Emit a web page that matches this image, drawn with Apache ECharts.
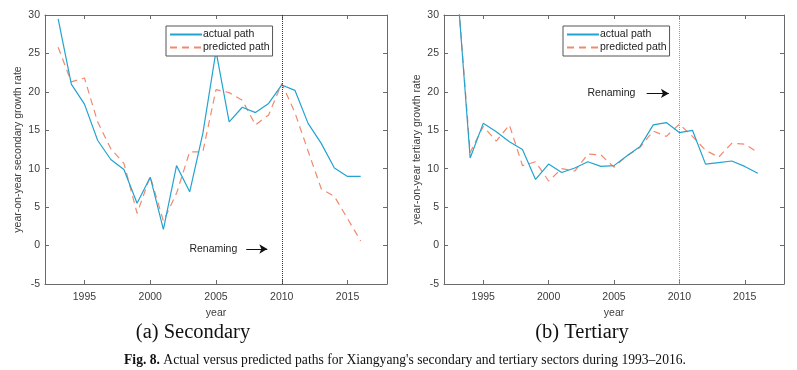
<!DOCTYPE html>
<html>
<head>
<meta charset="utf-8">
<script src="https://cdn.jsdelivr.net/npm/echarts@6/dist/echarts.min.js"></script>
<style>html,body{margin:0;padding:0;background:#fff}#c{width:797px;height:370px}</style>
</head>
<body>
<div id="c"></div>
<script>
const years = [1993,1994,1995,1996,1997,1998,1999,2000,2001,2002,2003,2004,2005,2006,2007,2008,2009,2010,2011,2012,2013,2014,2015,2016];
const secActual = [29.5,21.0,18.4,13.7,11.2,9.9,5.5,8.9,2.1,10.4,7.0,14.6,25.3,16.1,18.0,17.3,18.5,20.9,20.2,15.9,13.3,10.1,9.0,9.0];
const secPredicted = [25.8,21.3,21.8,16.1,12.6,10.7,4.2,9.0,3.2,6.8,12.2,12.2,20.3,19.9,18.9,15.7,17.0,21.1,17.3,12.3,7.4,6.4,3.5,0.6];
const terActual = [34.0,11.4,15.9,14.8,13.5,12.5,8.6,10.6,9.5,10.1,10.9,10.3,10.4,11.7,12.9,15.7,16.0,14.7,15.0,10.6,10.8,11.0,10.3,9.4];
const terPredicted = [34.0,12.1,15.5,13.6,15.7,10.4,10.9,8.4,10.0,9.7,11.9,11.8,10.2,11.7,12.8,14.9,14.2,15.8,14.2,12.4,11.5,13.3,13.2,12.1];
const xTicks = [1995,2000,2005,2010,2015];
const yTicks = [-5,0,5,10,15,20,25,30];
const renamingYear = 2010;
const secNote = {text:'Renaming', x:2004.8, y:-0.45, arrowFrom:2007.3, arrowTo:2008.9};
const terNote = {text:'Renaming', x:2004.8, y:19.8, arrowFrom:2007.5, arrowTo:2009.2};
const seriesNames = ['actual path','predicted path'];
const titles = ['(a) Secondary','(b) Tertiary'];
const yNames = ['year-on-year secondary growth rate','year-on-year tertiary growth rate'];

const BLUE = '#23a3cf', RED = '#f2896d', AX = '#6a6a6a', LBL = '#3c3c3c';
const pairs = v => years.map((y,i)=>[y,v[i]]);

const grids = [
  {left:45, top:15, width:342, height:269},
  {left:444, top:15, width:340, height:269}
];
const xAxes = [], yAxes = [];
grids.forEach((g,gi)=>{
  xAxes.push({type:'value', gridIndex:gi, position:'bottom', min:1992, max:2018, name:'year', nameLocation:'middle', nameGap:22,
    nameTextStyle:{fontSize:10.5, color:LBL, fontFamily:'Liberation Sans'},
    axisLine:{show:true, onZero:false, lineStyle:{color:AX}}, splitLine:{show:false},
    axisTick:{show:true, inside:true, length:4, customValues:xTicks, lineStyle:{color:AX}},
    axisLabel:{customValues:xTicks, formatter:v=>String(v), fontSize:10.5, color:LBL, margin:8, fontFamily:'Liberation Sans'}});
  xAxes.push({type:'value', gridIndex:gi, position:'top', min:1992, max:2018,
    axisLine:{show:true, onZero:false, lineStyle:{color:AX}}, splitLine:{show:false},
    axisTick:{show:true, inside:true, length:4, customValues:xTicks, lineStyle:{color:AX}},
    axisLabel:{show:false}});
  yAxes.push({type:'value', gridIndex:gi, position:'left', min:-5, max:30, interval:5, name:yNames[gi], nameLocation:'middle', nameGap:21,
    nameTextStyle:{fontSize:10.5, color:LBL, fontFamily:'Liberation Sans'},
    axisLine:{show:true, onZero:false, lineStyle:{color:AX}}, splitLine:{show:false},
    axisTick:{show:true, inside:true, length:4, lineStyle:{color:AX}},
    axisLabel:{formatter:v=>String(v), fontSize:10.5, color:LBL, margin:5, fontFamily:'Liberation Sans'}});
  yAxes.push({type:'value', gridIndex:gi, position:'right', min:-5, max:30, interval:5,
    axisLine:{show:true, onZero:false, lineStyle:{color:AX}}, splitLine:{show:false},
    axisTick:{show:true, inside:true, length:4, lineStyle:{color:AX}},
    axisLabel:{show:false}});
});

function annotations(note, vColor){
  return {
    markLine:{silent:true, animation:false, symbol:'none', label:{show:false},
      data:[
        [{coord:[renamingYear,-5], symbol:'none', lineStyle:{type:'dotted', color:vColor, width:1}}, {coord:[renamingYear,30], symbol:'none'}],
        [{coord:[note.arrowFrom,note.y], symbol:'none', lineStyle:{type:'solid', color:'#111', width:1}}, {coord:[note.arrowTo,note.y], symbol:'arrow', symbolSize:[7,8]}]
      ]},
    markPoint:{silent:true, animation:false, symbol:'circle', symbolSize:0,
      label:{show:true, formatter:note.text, color:'#222', fontSize:10.5, fontFamily:'Liberation Sans', position:'inside'},
      data:[{coord:[note.x,note.y]}]}
  };
}

const series = [
  Object.assign({name:seriesNames[0], type:'line', xAxisIndex:0, yAxisIndex:0, data:pairs(secActual), symbol:'none', clip:true,
    lineStyle:{color:BLUE, width:1.2}, itemStyle:{color:BLUE}, z:3}, annotations(secNote,'#333')),
  {name:seriesNames[1], type:'line', xAxisIndex:0, yAxisIndex:0, data:pairs(secPredicted), symbol:'none', clip:true,
    lineStyle:{color:RED, width:1.2, type:[7,5]}, itemStyle:{color:RED}, z:2},
  Object.assign({name:seriesNames[0], type:'line', xAxisIndex:2, yAxisIndex:2, data:pairs(terActual), symbol:'none', clip:true,
    lineStyle:{color:BLUE, width:1.2}, itemStyle:{color:BLUE}, z:3}, annotations(terNote,'#999')),
  {name:seriesNames[1], type:'line', xAxisIndex:2, yAxisIndex:2, data:pairs(terPredicted), symbol:'none', clip:true,
    lineStyle:{color:RED, width:1.2, type:[7,5]}, itemStyle:{color:RED}, z:2}
];

const legendBase = {orient:'vertical', top:26, itemWidth:32, itemHeight:12, itemGap:2, padding:[3,3,3,3],
  borderColor:'#555', borderWidth:1, backgroundColor:'#fff', selectedMode:false,
  itemStyle:{opacity:0},
  textStyle:{fontSize:10.5, color:'#222', fontFamily:'Liberation Sans', padding:[0,0,0,-4]}, data:seriesNames};

const chart = echarts.init(document.getElementById('c'), null, {renderer:'canvas'});
chart.setOption({
  animation:false,
  backgroundColor:'#fff',
  grid:grids,
  xAxis:xAxes,
  yAxis:yAxes,
  legend:[Object.assign({left:166}, legendBase), Object.assign({left:563}, legendBase)],
  title:[
    {text:titles[0], left:188, top:317, textAlign:'center', textStyle:{fontFamily:'Liberation Serif', fontSize:20.5, fontWeight:'normal', color:'#111'}},
    {text:titles[1], left:577, top:317, textAlign:'center', textStyle:{fontFamily:'Liberation Serif', fontSize:20.5, fontWeight:'normal', color:'#111'}},
    {text:'{b|Fig. 8.} Actual versus predicted paths for Xiangyang\'s secondary and tertiary sectors during 1993–2016.', left:400, top:348, textAlign:'center',
      textStyle:{fontFamily:'Liberation Serif', fontSize:13.6, fontWeight:'normal', color:'#111',
        rich:{b:{fontFamily:'Liberation Serif', fontSize:13.6, fontWeight:'bold', color:'#111'}}}}
  ],
  series:series
});
</script>
</body>
</html>
